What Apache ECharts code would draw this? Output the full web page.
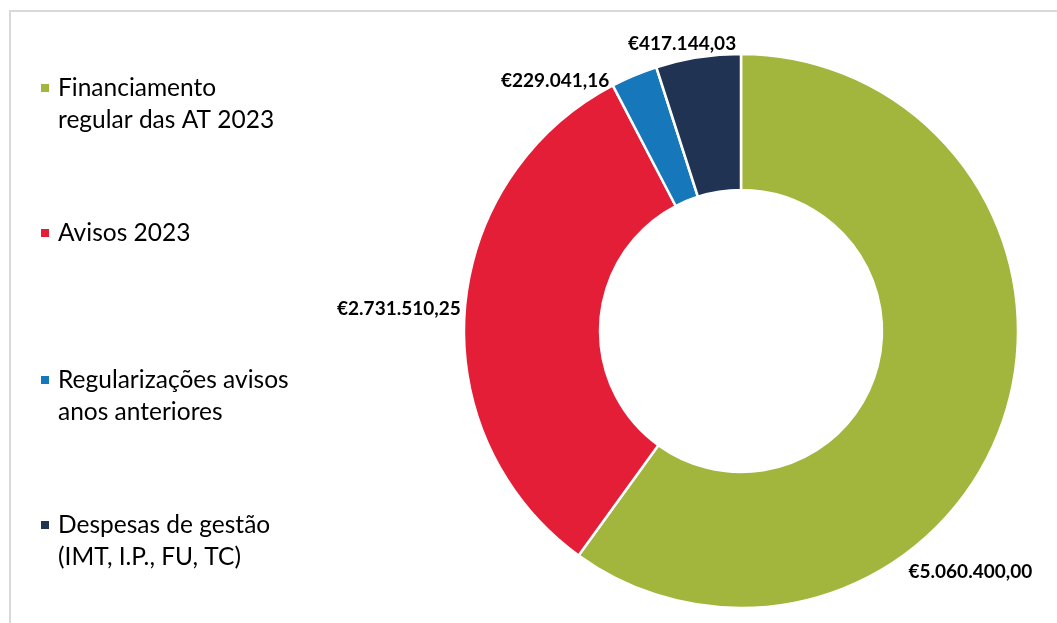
<!DOCTYPE html>
<html>
<head>
<meta charset="utf-8">
<script src="https://cdn.jsdelivr.net/npm/echarts@6/dist/echarts.min.js"></script>
<style>
  html, body { margin: 0; padding: 0; background: #fff; }
  #chart { width: 1057px; height: 623px; }
</style>
</head>
<body>
<div id="chart"></div>
<script>
const categories = [
  'Financiamento\nregular das AT 2023',
  'Avisos 2023',
  'Regularizações avisos\nanos anteriores',
  'Despesas de gestão\n(IMT, I.P., FU, TC)'
]
const values = [5060400.00, 2731510.25, 229041.16, 417144.03]
const colors = ['#a2b53c', '#e41e36', '#1677ba', '#213353']

// nudges for the data labels, relative to the default outside spot
const labelDx = [-101, 1, -20, 43]
const labelDy = [156, -2, 5, -13]

// legend rows: top of each block
const legendTops = [40, 217, 332, 477]

function formatEuro(v) {
  const parts = v.toFixed(2).split('.')
  const intPart = parts[0].replace(/\B(?=(\d{3})+(?!\d))/g, '.')
  return '€' + intPart + ',' + parts[1]
}

const chart = echarts.init(document.getElementById('chart'))

// two-line names get an empty line on top so the marker sits on the first line
const legends = categories.map((name, i) => ({
  orient: 'vertical',
  left: 39,
  top: legendTops[i],
  padding: 0,
  itemWidth: 10,
  itemHeight: 10,
  icon: 'rect',
  selectedMode: false,
  data: [name],
  formatter: (n) => (n.indexOf('\n') >= 0 ? ' \n' + n : n),
  textStyle: {
    fontFamily: 'Lato',
    fontSize: 24.5,
    lineHeight: 32,
    color: '#000',
    padding: [0, 0, 0, 3]
  }
}))

chart.setOption({
  animation: false,
  color: colors,
  graphic: [{
    type: 'rect',
    shape: { x: 10, y: 11, width: 1200, height: 800 },
    style: { fill: 'none', stroke: '#d9d9d9', lineWidth: 2 },
    silent: true
  }],
  legend: legends,
  series: [{
    type: 'pie',
    center: [741, 331],
    radius: [141, 277],
    startAngle: 90,
    clockwise: true,
    avoidLabelOverlap: false,
    emphasis: { disabled: true },
    itemStyle: { borderColor: '#fff', borderWidth: 2.5 },
    label: {
      show: true,
      position: 'outside',
      fontFamily: 'Lato',
      fontWeight: 'bold',
      fontSize: 19,
      color: '#000',
      formatter: (p) => formatEuro(p.value)
    },
    labelLine: { show: false, length: 0, length2: 0 },
    labelLayout: (p) => ({ dx: labelDx[p.dataIndex], dy: labelDy[p.dataIndex] }),
    data: categories.map((name, i) => ({ name: name, value: values[i] }))
  }]
})
</script>
</body>
</html>
